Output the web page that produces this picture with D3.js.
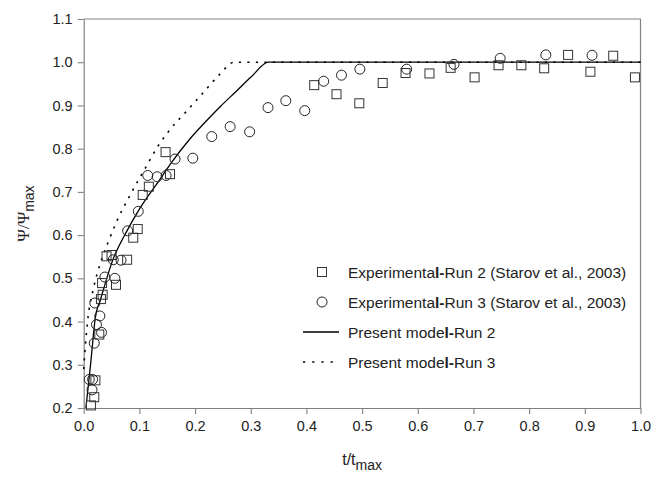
<!DOCTYPE html>
<html>
<head>
<meta charset="utf-8">
<script src="https://cdn.jsdelivr.net/npm/d3@7"></script>
<style>
  html, body { margin: 0; padding: 0; background: #fff; }
  svg { display: block; }
  text { font-family: Arial, "Liberation Sans", Helvetica, sans-serif; fill: #222; }
</style>
</head>
<body>
<svg id="chart" width="652" height="477"></svg>
<script>
// Experimental data, Run 2 (squares): [t/tmax, Psi/Psimax]
const run2X = [0.013, 0.019, 0.021, 0.028, 0.031, 0.034, 0.033, 0.041, 0.050, 0.058, 0.078, 0.089, 0.097, 0.106, 0.117, 0.147, 0.155,
               0.414, 0.454, 0.495, 0.537, 0.578, 0.621, 0.659, 0.702, 0.745, 0.786, 0.827, 0.870, 0.910, 0.951, 0.990];
const run2Y = [0.206, 0.225, 0.264, 0.370, 0.452, 0.462, 0.489, 0.551, 0.554, 0.485, 0.543, 0.594, 0.614, 0.693, 0.712, 0.792, 0.741,
               0.947, 0.926, 0.905, 0.952, 0.975, 0.974, 0.987, 0.965, 0.993, 0.993, 0.986, 1.017, 0.978, 1.015, 0.965];

// Experimental data, Run 3 (circles)
const run3X = [0.010, 0.016, 0.015, 0.019, 0.032, 0.023, 0.029, 0.020, 0.038, 0.056, 0.053, 0.067, 0.079, 0.098, 0.115, 0.132, 0.148,
               0.164, 0.196, 0.230, 0.263, 0.298, 0.331, 0.363, 0.397, 0.431, 0.463, 0.496, 0.580, 0.665, 0.748, 0.830, 0.913];
const run3Y = [0.266, 0.266, 0.242, 0.350, 0.375, 0.393, 0.413, 0.443, 0.503, 0.500, 0.543, 0.542, 0.610, 0.655, 0.738, 0.735, 0.738,
               0.776, 0.778, 0.828, 0.851, 0.839, 0.895, 0.911, 0.888, 0.956, 0.970, 0.984, 0.984, 0.995, 1.009, 1.017, 1.016];

// Present model curves
const model2X = [0.004, 0.0126, 0.021, 0.030, 0.053, 0.077, 0.100, 0.137, 0.155, 0.191, 0.215, 0.245, 0.275, 0.300, 0.332, 1.0];
const model2Y = [0.200, 0.304, 0.410, 0.450, 0.545, 0.608, 0.660, 0.729, 0.763, 0.823, 0.857, 0.897, 0.934, 0.965, 1.000, 1.000];
const model3X = [0.000, 0.002, 0.008, 0.017, 0.031, 0.044, 0.058, 0.084, 0.112, 0.132, 0.155, 0.185, 0.215, 0.245, 0.270, 1.0];
const model3Y = [0.290, 0.327, 0.412, 0.474, 0.539, 0.584, 0.628, 0.694, 0.758, 0.803, 0.844, 0.887, 0.930, 0.973, 1.000, 1.000];

const xTicks = [0, 0.1, 0.2, 0.3, 0.4, 0.5, 0.6, 0.7, 0.8, 0.9, 1.0];
const yTicks = [0.2, 0.3, 0.4, 0.5, 0.6, 0.7, 0.8, 0.9, 1.0, 1.1];

const legendLabels = [
  ["Experimenta", "l-", "Run 2 (Starov et al., 2003)"],
  ["Experimenta", "l-", "Run 3 (Starov et al., 2003)"],
  ["Present mode", "l-", "Run 2"],
  ["Present mode", "l-", "Run 3"]
];

const svg = d3.select("#chart");
const plotLeft = 83.7, plotRight = 640.5, plotTop = 19, plotBottom = 408;
const x = d3.scaleLinear().domain([0, 1]).range([plotLeft, plotRight]);
const y = d3.scaleLinear().domain([0.2, 1.1]).range([plotBottom, plotTop]);
const frameColor = "#808080";

// frame (top and right)
svg.append("path")
  .attr("d", `M${plotLeft},${plotTop}H${plotRight}V${plotBottom}`)
  .attr("fill", "none").attr("stroke", frameColor).attr("stroke-width", 1.2);

// axes
const xAxis = svg.append("g").attr("transform", `translate(0,${plotBottom})`)
  .call(d3.axisBottom(x).tickValues(xTicks).tickFormat(d3.format(".1f")).tickSize(6).tickSizeOuter(0));
const yAxis = svg.append("g").attr("transform", `translate(${plotLeft},0)`)
  .call(d3.axisLeft(y).tickValues(yTicks).tickFormat(d3.format(".1f")).tickSize(6).tickSizeOuter(0));
[xAxis, yAxis].forEach(g => {
  g.select(".domain").attr("stroke", frameColor).attr("stroke-width", 1.2);
  g.selectAll(".tick line").attr("stroke", frameColor).attr("stroke-width", 1.1);
  g.selectAll(".tick text").attr("font-size", 14.5).attr("fill", "#222")
    .style("font-family", "Arial, 'Liberation Sans', sans-serif");
});
xAxis.selectAll(".tick text").attr("dy", "1.05em").attr("y", 8);
yAxis.selectAll(".tick text").attr("x", -11);

// model curves
const line = d3.line().x(d => x(d[0])).y(d => y(d[1])).curve(d3.curveMonotoneX);
const m2 = model2X.map((v, i) => [v, model2Y[i]]);
const m3 = model3X.map((v, i) => [v, model3Y[i]]);
svg.append("path").attr("d", line(m3)).attr("fill", "none")
  .attr("stroke", "#000").attr("stroke-width", 1.6).attr("stroke-dasharray", "2.2,6.3");
svg.append("path").attr("d", line(m2)).attr("fill", "none")
  .attr("stroke", "#000").attr("stroke-width", 1.3);

// markers
const sq = 9, r = 5;
svg.append("g").selectAll("rect").data(run2X.map((v, i) => [v, run2Y[i]])).join("rect")
  .attr("x", d => x(d[0]) - sq / 2).attr("y", d => y(d[1]) - sq / 2)
  .attr("width", sq).attr("height", sq)
  .attr("fill", "none").attr("stroke", "#333").attr("stroke-width", 1);
svg.append("g").selectAll("circle").data(run3X.map((v, i) => [v, run3Y[i]])).join("circle")
  .attr("cx", d => x(d[0])).attr("cy", d => y(d[1])).attr("r", r)
  .attr("fill", "none").attr("stroke", "#222").attr("stroke-width", 1);

// legend
const legY = [272, 302, 332, 362];
const lg = svg.append("g");
lg.append("rect").attr("x", 322 - sq / 2).attr("y", legY[0] - sq / 2).attr("width", sq).attr("height", sq)
  .attr("fill", "none").attr("stroke", "#333");
lg.append("circle").attr("cx", 322).attr("cy", legY[1]).attr("r", r).attr("fill", "none").attr("stroke", "#222");
lg.append("line").attr("x1", 303).attr("x2", 339).attr("y1", legY[2]).attr("y2", legY[2])
  .attr("stroke", "#000").attr("stroke-width", 1.3);
lg.append("line").attr("x1", 303).attr("x2", 339).attr("y1", legY[3]).attr("y2", legY[3])
  .attr("stroke", "#000").attr("stroke-width", 1.6).attr("stroke-dasharray", "2.2,7");
legendLabels.forEach((parts, i) => {
  const t = lg.append("text").attr("x", 348).attr("y", legY[i]).attr("dy", "0.36em").attr("font-size", 15.5);
  t.append("tspan").text(parts[0]);
  t.append("tspan").attr("font-weight", "bold").text(parts[1]);
  t.append("tspan").text(parts[2]);
});

// axis titles
const xt = svg.append("text").attr("x", (plotLeft + plotRight) / 2).attr("y", 465)
  .attr("text-anchor", "middle").attr("font-size", 16);
xt.append("tspan").text("t/t");
xt.append("tspan").attr("dy", 5).attr("font-size", 14).text("max");

const yt = svg.append("text").attr("transform", `translate(29,${(plotTop + plotBottom) / 2}) rotate(-90)`)
  .attr("text-anchor", "middle").attr("font-size", 17);
yt.append("tspan").style("font-family", "'Liberation Serif', 'Times New Roman', serif").text("Ψ/Ψ");
yt.append("tspan").attr("dy", 5).attr("font-size", 14).text("max");
</script>
</body>
</html>
